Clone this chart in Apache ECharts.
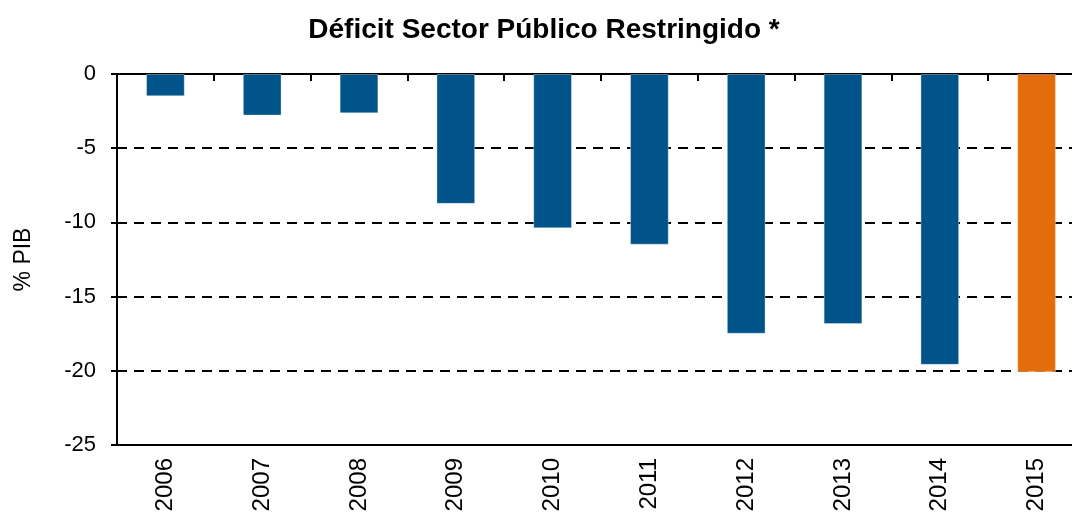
<!DOCTYPE html>
<html>
<head>
<meta charset="utf-8">
<script src="https://cdn.jsdelivr.net/npm/echarts@6/dist/echarts.min.js"></script>
<style>
html,body{margin:0;padding:0;background:#fff;overflow:hidden;width:1072px;height:516px;}
#chart{width:1086px;height:516px;}
</style>
</head>
<body>
<div id="chart"></div>
<script>
const titleText = 'Déficit Sector Público Restringido *';
const yAxisName = '% PIB';
const categories = ['2006','2007','2008','2009','2010','2011','2012','2013','2014','2015'];
const deficit = [-1.5, -2.8, -2.65, -8.75, -10.4, -11.5, -17.5, -16.85, -19.6, -20.1];
const highlightCategory = '2015';

const blue = '#00548A';
const orange = '#E46C0A';
const font = 'Liberation Sans, Arial, sans-serif';

const chart = echarts.init(document.getElementById('chart'));
chart.setOption({
  animation: false,
  backgroundColor: '#fff',
  title: {
    text: titleText,
    left: 539,
    textAlign: 'center',
    top: 11,
    textStyle: { fontFamily: font, fontWeight: 'bold', fontSize: 28, color: '#000' }
  },
  grid: { left: 117, right: 1, top: 74, bottom: 71 },
  xAxis: [
    {
      type: 'category',
      data: categories,
      position: 'bottom',
      axisLine: { show: true, onZero: false, lineStyle: { color: '#000', width: 2 } },
      axisTick: { show: false },
      axisLabel: { rotate: 90, fontFamily: font, fontSize: 24, color: '#000', margin: 13 }
    },
    {
      type: 'category',
      data: categories,
      position: 'top',
      axisLine: { show: true, onZero: false, lineStyle: { color: '#000', width: 2 } },
      axisTick: { show: true, inside: true, length: 7, lineStyle: { color: '#000', width: 2 } },
      axisLabel: { show: false }
    }
  ],
  yAxis: {
    type: 'value',
    min: -25,
    max: 0,
    interval: 5,
    name: yAxisName,
    nameLocation: 'middle',
    nameGap: 82,
    nameRotate: 90,
    nameTextStyle: { fontFamily: font, fontSize: 23, color: '#000' },
    axisLine: { show: true, lineStyle: { color: '#000', width: 2 } },
    axisTick: { show: true, length: 6, lineStyle: { color: '#000', width: 2 } },
    axisLabel: { fontFamily: font, fontSize: 22, color: '#000', margin: 21 },
    splitLine: { show: true, lineStyle: { color: '#000', width: 2, type: [10, 7] } }
  },
  series: [{
    type: 'bar',
    xAxisIndex: 0,
    barWidth: '40%',
    data: deficit.map((v, i) => ({
      value: v,
      itemStyle: { color: categories[i] === highlightCategory ? orange : blue }
    })),
    itemStyle: { borderColor: 'rgba(255,255,255,0.35)', borderWidth: 1 }
  }]
});
</script>
</body>
</html>
